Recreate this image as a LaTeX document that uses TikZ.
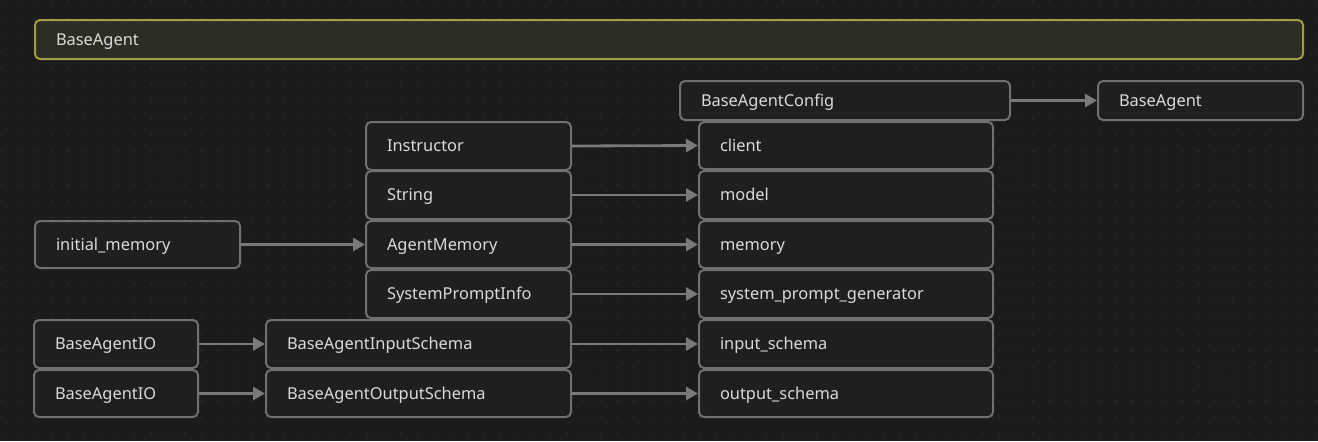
\documentclass[tikz,border=0pt]{standalone}
\usepackage{fontspec}
\setmainfont{Noto Sans}
\usetikzlibrary{arrows.meta}
\definecolor{bgc}{HTML}{1B1B1B}
\definecolor{dotc}{HTML}{2C2C2C}
\definecolor{boxfill}{HTML}{1F1F1F}
\definecolor{boxline}{HTML}{707070}
\definecolor{txt}{HTML}{DADADA}
\definecolor{arrc}{HTML}{7A7A7A}
\definecolor{topfill}{HTML}{2E2D23}
\definecolor{topline}{HTML}{A09C48}
\tikzset{
  box/.style={draw=boxline, fill=boxfill, line width=1pt, rounded corners=2.5pt,
    inner xsep=10.5pt, inner ysep=0pt, align=left, text=txt,
    text height=7.5pt, text depth=1.65pt,
    font=\fontsize{8.2}{10}\selectfont},
  topbox/.style={box, draw=topline, fill=topfill},
  arr/.style={draw=arrc, line width=1.4pt, -{Triangle[length=6pt,width=6.5pt]}},
}
\newcommand\bx[7][box]{%
  \pgfmathsetmacro\bxw{(#5-#3)*0.5-21}%
  \pgfmathsetmacro\bxh{(#6-#4)*0.5}%
  \node[#1, anchor=north west, text width=\bxw pt, minimum height=\bxh pt] (#2) at (#3*0.5pt-0.5pt, -#4*0.5pt) {#7};}
\begin{document}
\begin{tikzpicture}
\fill[bgc] (0,0) rectangle (659pt,-220.5pt);
\useasboundingbox (0,0) rectangle (659pt,-220.5pt);
\foreach \i in {0,...,79}{
  \foreach \j in {0,...,26}{
    \fill[dotc] ({(1.7+16.63*\i)*0.5pt},{-(1.7+16.63*\j)*0.5pt}) circle (0.5pt);
  }
}
\bx[topbox]{top}{35}{19}{1303}{58}{BaseAgent}
\bx{cfg}{680}{80}{1010}{119}{BaseAgentConfig}
\bx{agent}{1098}{80}{1303}{119}{BaseAgent}
\bx{client}{699}{121}{993}{168}{client}
\bx{model}{699}{170}{993}{218}{model}
\bx{memory}{699}{220}{993}{267}{memory}
\bx{spg}{699}{269}{993}{317}{system\_prompt\_generator}
\bx{ins}{699}{319}{993}{367}{input\_schema}
\bx{outs}{699}{369}{993}{416}{output\_schema}
\bx{instr}{366}{121}{571}{169}{Instructor}
\bx{str}{366}{170}{571}{218}{String}
\bx{amem}{366}{220}{571}{267}{AgentMemory}
\bx{spi}{366}{269}{571}{317}{SystemPromptInfo}
\bx{bais}{266}{319}{571}{367}{BaseAgentInputSchema}
\bx{baos}{266}{369}{571}{416}{BaseAgentOutputSchema}
\bx{imem}{35}{220}{240}{267}{initial\_memory}
\bx{io1}{34}{319}{198}{367}{BaseAgentIO}
\bx{io2}{34}{369}{198}{416}{BaseAgentIO}
\draw[arr] (cfg.east) -- (agent.west);
\draw[arr] (instr.east) -- (client.west);
\draw[arr] (str.east) -- (model.west);
\draw[arr] (amem.east) -- (memory.west);
\draw[arr] (spi.east) -- (spg.west);
\draw[arr] (bais.east) -- (ins.west);
\draw[arr] (baos.east) -- (outs.west);
\draw[arr] (imem.east) -- (amem.west);
\draw[arr] (io1.east) -- (bais.west);
\draw[arr] (io2.east) -- (baos.west);
\end{tikzpicture}
\end{document}
